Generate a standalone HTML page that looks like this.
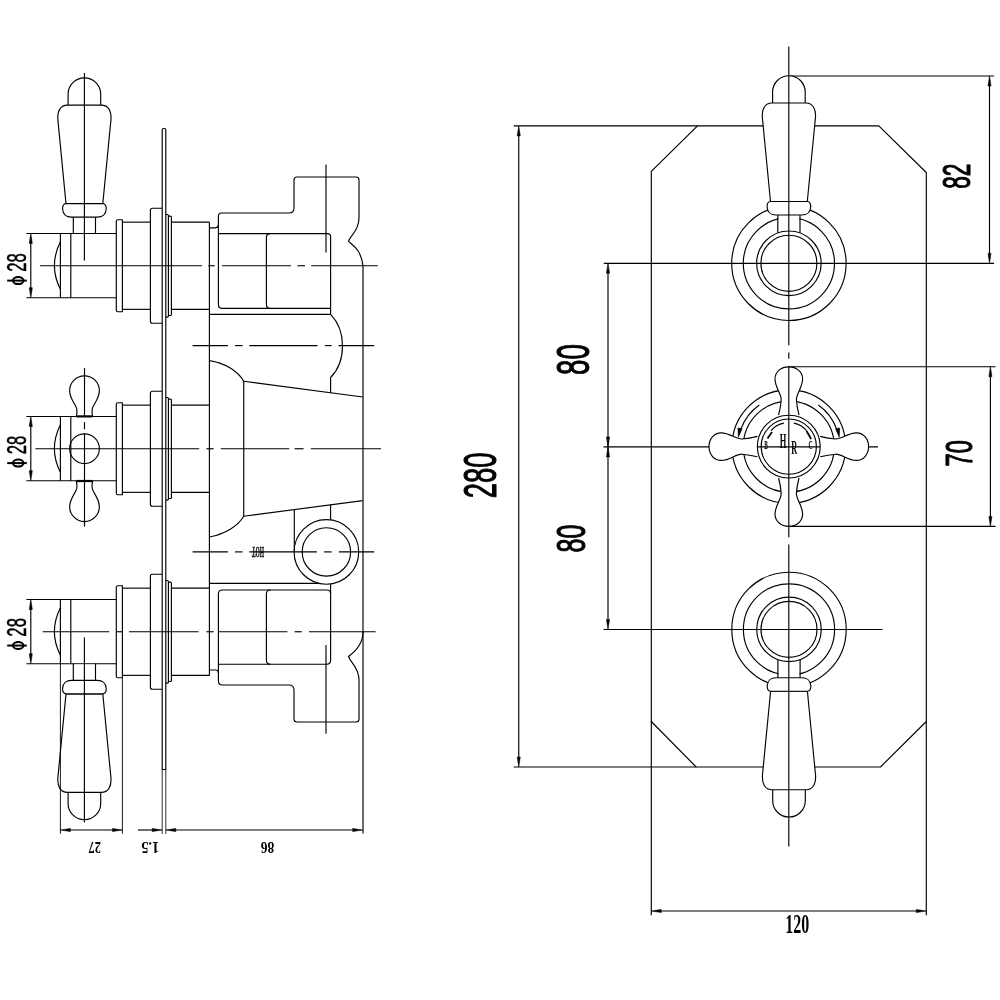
<!DOCTYPE html><html><head><meta charset="utf-8"><style>html,body{margin:0;padding:0;background:#fff;width:1000px;height:1000px;overflow:hidden}svg{display:block;filter:grayscale(1)}</style></head><body><svg width="1000" height="1000" viewBox="0 0 1000 1000" fill="none" stroke="#000" stroke-width="1.15" stroke-linecap="butt" stroke-linejoin="round"><line x1="26.40" y1="233.45" x2="116.30" y2="233.45"/>
<line x1="26.40" y1="297.75" x2="116.30" y2="297.75"/>
<line x1="30.80" y1="242.45" x2="30.80" y2="288.75"/>
<path d="M30.80,233.45 L32.30,243.45 L29.30,243.45 Z" fill="#000" stroke-width="0.6"/>
<path d="M30.80,297.75 L29.30,287.75 L32.30,287.75 Z" fill="#000" stroke-width="0.6"/>
<line x1="60.40" y1="233.45" x2="60.40" y2="297.75"/>
<path d="M60.4,241.75 Q48.4,265.75 60.4,289.25"/>
<line x1="70.80" y1="233.45" x2="70.80" y2="297.75"/>
<path d="M116.3,221.25 Q116.3,219.75 117.8,219.75 H122.4 V311.75 H117.8 Q116.3,311.75 116.3,310.25 Z"/>
<line x1="122.40" y1="222.15" x2="150.40" y2="222.15"/>
<line x1="122.40" y1="309.35" x2="150.40" y2="309.35"/>
<path d="M162,208.25 H152.4 Q150.4,208.25 150.4,210.25 V321.25 Q150.4,323.25 152.4,323.25 H162"/>
<path d="M166,214.45 H167.4 Q168.4,214.45 168.4,215.45 V316.05 Q168.4,317.05 167.4,317.05 H166"/>
<path d="M168.4,216.05 H170.4 Q171.4,216.05 171.4,217.05 V314.45 Q171.4,315.45 170.4,315.45 H168.4"/>
<line x1="171.40" y1="222.15" x2="209.40" y2="222.15"/>
<line x1="171.40" y1="309.35" x2="209.40" y2="309.35"/>
<line x1="26.40" y1="416.45" x2="116.30" y2="416.45"/>
<line x1="26.40" y1="480.75" x2="116.30" y2="480.75"/>
<line x1="30.80" y1="425.45" x2="30.80" y2="471.75"/>
<path d="M30.80,416.45 L32.30,426.45 L29.30,426.45 Z" fill="#000" stroke-width="0.6"/>
<path d="M30.80,480.75 L29.30,470.75 L32.30,470.75 Z" fill="#000" stroke-width="0.6"/>
<line x1="60.40" y1="416.45" x2="60.40" y2="480.75"/>
<path d="M60.4,424.75 Q48.4,448.75 60.4,472.25"/>
<line x1="70.80" y1="416.45" x2="70.80" y2="480.75"/>
<path d="M116.3,404.25 Q116.3,402.75 117.8,402.75 H122.4 V494.75 H117.8 Q116.3,494.75 116.3,493.25 Z"/>
<line x1="122.40" y1="405.15" x2="150.40" y2="405.15"/>
<line x1="122.40" y1="492.35" x2="150.40" y2="492.35"/>
<path d="M162,391.25 H152.4 Q150.4,391.25 150.4,393.25 V504.25 Q150.4,506.25 152.4,506.25 H162"/>
<path d="M166,397.45 H167.4 Q168.4,397.45 168.4,398.45 V499.05 Q168.4,500.05 167.4,500.05 H166"/>
<path d="M168.4,399.05 H170.4 Q171.4,399.05 171.4,400.05 V497.45 Q171.4,498.45 170.4,498.45 H168.4"/>
<line x1="171.40" y1="405.15" x2="209.40" y2="405.15"/>
<line x1="171.40" y1="492.35" x2="209.40" y2="492.35"/>
<line x1="26.40" y1="599.45" x2="116.30" y2="599.45"/>
<line x1="26.40" y1="663.75" x2="116.30" y2="663.75"/>
<line x1="30.80" y1="608.45" x2="30.80" y2="654.75"/>
<path d="M30.80,599.45 L32.30,609.45 L29.30,609.45 Z" fill="#000" stroke-width="0.6"/>
<path d="M30.80,663.75 L29.30,653.75 L32.30,653.75 Z" fill="#000" stroke-width="0.6"/>
<line x1="60.40" y1="599.45" x2="60.40" y2="663.75"/>
<path d="M60.4,607.75 Q48.4,631.75 60.4,655.25"/>
<line x1="70.80" y1="599.45" x2="70.80" y2="663.75"/>
<path d="M116.3,587.25 Q116.3,585.75 117.8,585.75 H122.4 V677.75 H117.8 Q116.3,677.75 116.3,676.25 Z"/>
<line x1="122.40" y1="588.15" x2="150.40" y2="588.15"/>
<line x1="122.40" y1="675.35" x2="150.40" y2="675.35"/>
<path d="M162,574.25 H152.4 Q150.4,574.25 150.4,576.25 V687.25 Q150.4,689.25 152.4,689.25 H162"/>
<path d="M166,580.45 H167.4 Q168.4,580.45 168.4,581.45 V682.05 Q168.4,683.05 167.4,683.05 H166"/>
<path d="M168.4,582.05 H170.4 Q171.4,582.05 171.4,583.05 V680.45 Q171.4,681.45 170.4,681.45 H168.4"/>
<line x1="171.40" y1="588.15" x2="209.40" y2="588.15"/>
<line x1="171.40" y1="675.35" x2="209.40" y2="675.35"/>
<path d="M162.2,769.5 V130 Q162.2,128.5 163.7,128.5 H164.3 Q165.8,128.5 165.8,130 V769.5 Z"/>
<text transform="translate(26.4,262.40) rotate(-90)" x="0" y="0" text-anchor="middle" font-family="Liberation Sans" font-size="26.8" textLength="18.6" lengthAdjust="spacingAndGlyphs" fill="#000" stroke="#000" stroke-width="0.5">28</text>
<ellipse cx="18.2" cy="280.60" rx="5.3" ry="3.5" stroke-width="2"/>
<path d="M7.2,280.60 L26.8,280.60" stroke-width="2"/>
<text transform="translate(26.4,444.90) rotate(-90)" x="0" y="0" text-anchor="middle" font-family="Liberation Sans" font-size="26.8" textLength="18.6" lengthAdjust="spacingAndGlyphs" fill="#000" stroke="#000" stroke-width="0.5">28</text>
<ellipse cx="18.2" cy="463.10" rx="5.3" ry="3.5" stroke-width="2"/>
<path d="M7.2,463.10 L26.8,463.10" stroke-width="2"/>
<text transform="translate(26.4,627.35) rotate(-90)" x="0" y="0" text-anchor="middle" font-family="Liberation Sans" font-size="26.8" textLength="18.6" lengthAdjust="spacingAndGlyphs" fill="#000" stroke="#000" stroke-width="0.5">28</text>
<ellipse cx="18.2" cy="645.55" rx="5.3" ry="3.5" stroke-width="2"/>
<path d="M7.2,645.55 L26.8,645.55" stroke-width="2"/>
<line x1="40.00" y1="265.75" x2="202.00" y2="265.75"/>
<line x1="208.30" y1="265.75" x2="214.60" y2="265.75"/>
<line x1="222.00" y1="265.75" x2="290.90" y2="265.75"/>
<line x1="297.60" y1="265.75" x2="305.00" y2="265.75"/>
<line x1="311.20" y1="265.75" x2="377.80" y2="265.75"/>
<line x1="35.40" y1="448.75" x2="199.20" y2="448.75"/>
<line x1="206.40" y1="448.75" x2="213.60" y2="448.75"/>
<line x1="220.80" y1="448.75" x2="289.20" y2="448.75"/>
<line x1="294.60" y1="448.75" x2="303.60" y2="448.75"/>
<line x1="310.80" y1="448.75" x2="381.00" y2="448.75"/>
<line x1="42.60" y1="631.75" x2="109.20" y2="631.75"/>
<line x1="116.40" y1="631.75" x2="122.90" y2="631.75"/>
<line x1="129.00" y1="631.75" x2="198.50" y2="631.75"/>
<line x1="206.40" y1="631.75" x2="213.60" y2="631.75"/>
<line x1="219.00" y1="631.75" x2="287.40" y2="631.75"/>
<line x1="294.60" y1="631.75" x2="301.80" y2="631.75"/>
<line x1="309.00" y1="631.75" x2="375.60" y2="631.75"/>
<line x1="192.60" y1="345.60" x2="227.90" y2="345.60"/>
<line x1="235.00" y1="345.60" x2="242.60" y2="345.60"/>
<line x1="249.30" y1="345.60" x2="317.50" y2="345.60"/>
<line x1="324.90" y1="345.60" x2="331.60" y2="345.60"/>
<line x1="338.50" y1="345.60" x2="374.20" y2="345.60"/>
<line x1="192.60" y1="551.90" x2="227.90" y2="551.90"/>
<line x1="235.00" y1="551.90" x2="242.60" y2="551.90"/>
<line x1="249.30" y1="551.90" x2="316.90" y2="551.90"/>
<line x1="324.00" y1="551.90" x2="331.70" y2="551.90"/>
<line x1="338.90" y1="551.90" x2="374.20" y2="551.90"/>
<line x1="209.40" y1="222.20" x2="209.40" y2="675.50"/>
<path d="M209.4,227.8 H215.4 Q218.4,227.8 218.4,224.8 V216 Q218.4,213 221.4,213 H289 Q294,213 294,208 V180 Q294,177 297,177 H356 Q359,177 359,180 V218 C359,231 350,236 348.5,241.3 C353,245.5 361,249.5 363,266 V833.5"/>
<path d="M218.4,224.8 V304.4 Q218.4,308.4 222.4,308.4 H330.6"/>
<path d="M218.4,233.6 H327.6 Q330.6,233.6 330.6,236.6 V314.4"/>
<path d="M270.4,233.6 Q266.4,233.6 266.4,237.6 V304.4 Q266.4,308.4 270.4,308.4"/>
<line x1="209.40" y1="314.40" x2="330.60" y2="314.40"/>
<path d="M330.6,314.4 C338,322 342.5,333 342.5,346 C342.5,359 338,370 330.6,377.5 V392.75"/>
<path d="M209.4,360.6 C225,363 238,371 243.75,381.25 V516.25 C238,526 225,534 209.4,537"/>
<line x1="243.75" y1="381.25" x2="362.70" y2="397.00"/>
<line x1="243.75" y1="516.25" x2="362.70" y2="500.60"/>
<line x1="330.60" y1="504.80" x2="330.60" y2="519.60"/>
<line x1="294.30" y1="509.60" x2="294.30" y2="551.90"/>
<circle cx="326.40" cy="551.90" r="32.30"/>
<circle cx="326.40" cy="551.90" r="24.20"/>
<line x1="209.40" y1="583.30" x2="318.80" y2="583.30"/>
<path d="M330.6,583.9 V660.25 Q330.6,664.25 326.6,664.25 H218.4"/>
<path d="M218.4,673 V594 Q218.4,590 222.4,590 H326.6 Q330.6,590 330.6,594"/>
<path d="M270.4,590 Q266.4,590 266.4,594 V660.25 Q266.4,664.25 270.4,664.25"/>
<path d="M209.4,670 H215.4 Q218.4,670 218.4,673 V681 Q218.4,685 222.4,685 H289 Q294,685 294,690 V719 Q294,722 297,722 H356 Q359,722 359,719 V680 C359,667 350,662 348.5,656.5 C356,651 363,643 363,632"/>
<line x1="326.00" y1="164.40" x2="326.00" y2="252.40"/>
<line x1="326.00" y1="645.00" x2="326.00" y2="733.75"/>
<text transform="translate(258,547.2) rotate(180)" text-anchor="middle" font-family="Liberation Serif" font-weight="bold" font-size="13.6" textLength="12" lengthAdjust="spacingAndGlyphs" fill="#000" stroke="#000" stroke-width="0.3">HOT</text>
<g transform="translate(84.4,217.1)"><rect x="-10.5" y="0" width="21" height="15.8" fill="#fff" stroke="none"/><path d="M-11.1,0 V16.8 M11.1,0 V16.8"/><path d="M-16.3,-112 V-123 A16.3,16.3 0 0 1 16.3,-123 V-112" fill="#fff"/><path d="M-18.4,-13.5 L-26.6,-98 C-27,-106 -24,-112 -17,-112 H17 C24,-112 27,-106 26.6,-98 L18.4,-13.5 Z" fill="#fff"/><path d="M-18.4,-13.5 H18.4 C21.3,-13.5 21.9,-10.5 21.8,-8 C21.6,-3 18,0 13,0 H-13 C-18,0 -21.6,-3 -21.8,-8 C-21.9,-10.5 -21.3,-13.5 -18.4,-13.5 Z" fill="#fff"/></g>
<g transform="translate(84.4,680.4) scale(1,-1)"><rect x="-10.5" y="0" width="21" height="15.8" fill="#fff" stroke="none"/><path d="M-11.1,0 V16.8 M11.1,0 V16.8"/><path d="M-16.3,-112 V-123 A16.3,16.3 0 0 1 16.3,-123 V-112" fill="#fff"/><path d="M-18.4,-13.5 L-26.6,-98 C-27,-106 -24,-112 -17,-112 H17 C24,-112 27,-106 26.6,-98 L18.4,-13.5 Z" fill="#fff"/><path d="M-18.4,-13.5 H18.4 C21.3,-13.5 21.9,-10.5 21.8,-8 C21.6,-3 18,0 13,0 H-13 C-18,0 -21.6,-3 -21.8,-8 C-21.9,-10.5 -21.3,-13.5 -18.4,-13.5 Z" fill="#fff"/></g>
<line x1="84.40" y1="73.00" x2="84.40" y2="260.50"/>
<line x1="84.40" y1="637.50" x2="84.40" y2="822.50"/>
<g transform="translate(84.5,448.7)"><path d="M-8.2,-32.3 C-7.4,-35 -7.4,-37.5 -7.8,-40 C-8.6,-44 -14.85,-50 -14.85,-58 A14.85,14.85 0 0 1 14.85,-58 C14.85,-50 8.6,-44 7.8,-40 C7.4,-37.5 7.4,-35 8.2,-32.3" fill="#fff"/><path d="M-8.2,-32.3 C-7.4,-35 -7.4,-37.5 -7.8,-40 C-8.6,-44 -14.85,-50 -14.85,-58 A14.85,14.85 0 0 1 14.85,-58 C14.85,-50 8.6,-44 7.8,-40 C7.4,-37.5 7.4,-35 8.2,-32.3" transform="scale(1,-1)" fill="#fff"/></g>
<circle cx="84.50" cy="448.70" r="14.85"/>
<line x1="76.60" y1="416.40" x2="92.40" y2="416.40" stroke-width="2.2"/>
<line x1="76.60" y1="481.00" x2="92.40" y2="481.00" stroke-width="2.2"/>
<line x1="84.50" y1="368.10" x2="84.50" y2="415.80"/>
<line x1="84.50" y1="422.00" x2="84.50" y2="429.30"/>
<line x1="84.50" y1="433.80" x2="84.50" y2="526.50"/>
<line x1="60.40" y1="663.75" x2="60.40" y2="833.75" stroke-width="0.9"/>
<line x1="122.40" y1="678.00" x2="122.40" y2="833.75" stroke-width="0.9"/>
<line x1="162.20" y1="769.50" x2="162.20" y2="834.00" stroke-width="0.8"/>
<line x1="165.80" y1="769.50" x2="165.80" y2="834.00" stroke-width="0.8"/>
<line x1="70.40" y1="830.00" x2="112.40" y2="830.00"/>
<path d="M60.40,830.00 L70.40,828.50 L70.40,831.50 Z" fill="#000" stroke-width="0.6"/>
<path d="M122.40,830.00 L112.40,831.50 L112.40,828.50 Z" fill="#000" stroke-width="0.6"/>
<line x1="138.00" y1="830.00" x2="152.20" y2="830.00"/>
<path d="M162.20,830.00 L152.20,831.50 L152.20,828.50 Z" fill="#000" stroke-width="0.6"/>
<line x1="175.80" y1="830.00" x2="352.70" y2="830.00"/>
<path d="M165.80,830.00 L175.80,828.50 L175.80,831.50 Z" fill="#000" stroke-width="0.6"/>
<path d="M362.70,830.00 L352.70,831.50 L352.70,828.50 Z" fill="#000" stroke-width="0.6"/>
<text transform="translate(94.8,847.8) rotate(180)" text-anchor="middle" dominant-baseline="central" font-family="Liberation Serif" font-weight="bold" font-size="16" textLength="12.5" lengthAdjust="spacingAndGlyphs" fill="#000" stroke="none">27</text>
<text transform="translate(150.2,847.8) rotate(180)" text-anchor="middle" dominant-baseline="central" font-family="Liberation Serif" font-weight="bold" font-size="16" textLength="18" lengthAdjust="spacingAndGlyphs" fill="#000" stroke="none">1.5</text>
<text transform="translate(267.4,847.8) rotate(180)" text-anchor="middle" dominant-baseline="central" font-family="Liberation Serif" font-weight="bold" font-size="16" textLength="13.5" lengthAdjust="spacingAndGlyphs" fill="#000" stroke="none">86</text>
<path d="M697.5,125.9 L651.3,171.3 V721.5 L696.2,767 H880.5 L926.3,721.5 V172.5 L878.8,125.9 Z"/>
<line x1="513.75" y1="125.90" x2="697.50" y2="125.90"/>
<line x1="513.75" y1="767.00" x2="696.20" y2="767.00"/>
<line x1="518.75" y1="135.90" x2="518.75" y2="757.00"/>
<path d="M518.75,125.90 L520.25,135.90 L517.25,135.90 Z" fill="#000" stroke-width="0.6"/>
<path d="M518.75,767.00 L517.25,757.00 L520.25,757.00 Z" fill="#000" stroke-width="0.6"/>
<line x1="651.30" y1="721.50" x2="651.30" y2="915.20"/>
<line x1="926.30" y1="721.50" x2="926.30" y2="915.20"/>
<line x1="661.30" y1="911.00" x2="916.30" y2="911.00"/>
<path d="M651.30,911.00 L661.30,909.50 L661.30,912.50 Z" fill="#000" stroke-width="0.6"/>
<path d="M926.30,911.00 L916.30,912.50 L916.30,909.50 Z" fill="#000" stroke-width="0.6"/>
<line x1="603.75" y1="263.30" x2="994.00" y2="263.30"/>
<line x1="603.50" y1="446.90" x2="878.00" y2="446.90"/>
<line x1="603.50" y1="629.50" x2="882.50" y2="629.50"/>
<line x1="608.00" y1="273.30" x2="608.00" y2="619.50"/>
<path d="M608.00,263.30 L609.50,273.30 L606.50,273.30 Z" fill="#000" stroke-width="0.6"/>
<path d="M608.00,446.90 L606.50,436.90 L609.50,436.90 Z" fill="#000" stroke-width="0.6"/>
<path d="M608.00,446.90 L609.50,456.90 L606.50,456.90 Z" fill="#000" stroke-width="0.6"/>
<path d="M608.00,629.50 L606.50,619.50 L609.50,619.50 Z" fill="#000" stroke-width="0.6"/>
<line x1="788.90" y1="76.00" x2="994.00" y2="76.00"/>
<line x1="989.50" y1="86.00" x2="989.50" y2="253.30"/>
<path d="M989.50,76.00 L991.00,86.00 L988.00,86.00 Z" fill="#000" stroke-width="0.6"/>
<path d="M989.50,263.30 L988.00,253.30 L991.00,253.30 Z" fill="#000" stroke-width="0.6"/>
<line x1="788.90" y1="366.70" x2="995.50" y2="366.70"/>
<line x1="788.90" y1="526.40" x2="995.50" y2="526.40"/>
<line x1="990.40" y1="376.70" x2="990.40" y2="516.40"/>
<path d="M990.40,366.70 L991.90,376.70 L988.90,376.70 Z" fill="#000" stroke-width="0.6"/>
<path d="M990.40,526.40 L988.90,516.40 L991.90,516.40 Z" fill="#000" stroke-width="0.6"/>
<circle cx="788.90" cy="263.30" r="57.20"/>
<circle cx="788.90" cy="263.30" r="45.60"/>
<circle cx="788.90" cy="263.30" r="32.25"/>
<circle cx="788.90" cy="263.30" r="28.00"/>
<circle cx="789.00" cy="629.40" r="57.20"/>
<circle cx="789.00" cy="629.40" r="45.60"/>
<circle cx="789.00" cy="629.40" r="32.25"/>
<circle cx="789.00" cy="629.40" r="28.00"/>
<g transform="translate(788.9,215)"><rect x="-10.5" y="0" width="21" height="15.2" fill="#fff" stroke="none"/><path d="M-11.1,0 V18 M11.1,0 V18"/><path d="M-16.3,-112 V-123 A16.3,16.3 0 0 1 16.3,-123 V-112" fill="#fff"/><path d="M-18.4,-13.5 L-26.6,-98 C-27,-106 -24,-112 -17,-112 H17 C24,-112 27,-106 26.6,-98 L18.4,-13.5 Z" fill="#fff"/><path d="M-18.4,-13.5 H18.4 C21.3,-13.5 21.9,-10.5 21.8,-8 C21.6,-3 18,0 13,0 H-13 C-18,0 -21.6,-3 -21.8,-8 C-21.9,-10.5 -21.3,-13.5 -18.4,-13.5 Z" fill="#fff"/></g>
<g transform="translate(789.0,677.7) scale(1,-1)"><rect x="-10.5" y="0" width="21" height="15.2" fill="#fff" stroke="none"/><path d="M-11.1,0 V18 M11.1,0 V18"/><path d="M-16.3,-112 V-123 A16.3,16.3 0 0 1 16.3,-123 V-112" fill="#fff"/><path d="M-18.4,-13.5 L-26.6,-98 C-27,-106 -24,-112 -17,-112 H17 C24,-112 27,-106 26.6,-98 L18.4,-13.5 Z" fill="#fff"/><path d="M-18.4,-13.5 H18.4 C21.3,-13.5 21.9,-10.5 21.8,-8 C21.6,-3 18,0 13,0 H-13 C-18,0 -21.6,-3 -21.8,-8 C-21.9,-10.5 -21.3,-13.5 -18.4,-13.5 Z" fill="#fff"/></g>
<circle cx="788.80" cy="446.60" r="56.80"/>
<circle cx="788.80" cy="446.60" r="45.50"/>
<g transform="translate(788.8,446.6)"><path d="M10.2,-31.4 C9,-36 8,-41 7.6,-46.8 C7.4,-53 13.8,-59 13.8,-67.5 C13.8,-75 7.5,-79.8 0,-79.8 C-7.5,-79.8 -13.8,-75 -13.8,-67.5 C-13.8,-59 -7.4,-53 -7.6,-46.8 C-8,-41 -9,-36 -10.2,-31.4" transform="rotate(0)" fill="#fff"/><path d="M10.2,-31.4 C9,-36 8,-41 7.6,-46.8 C7.4,-53 13.8,-59 13.8,-67.5 C13.8,-75 7.5,-79.8 0,-79.8 C-7.5,-79.8 -13.8,-75 -13.8,-67.5 C-13.8,-59 -7.4,-53 -7.6,-46.8 C-8,-41 -9,-36 -10.2,-31.4" transform="rotate(90)" fill="#fff"/><path d="M10.2,-31.4 C9,-36 8,-41 7.6,-46.8 C7.4,-53 13.8,-59 13.8,-67.5 C13.8,-75 7.5,-79.8 0,-79.8 C-7.5,-79.8 -13.8,-75 -13.8,-67.5 C-13.8,-59 -7.4,-53 -7.6,-46.8 C-8,-41 -9,-36 -10.2,-31.4" transform="rotate(180)" fill="#fff"/><path d="M10.2,-31.4 C9,-36 8,-41 7.6,-46.8 C7.4,-53 13.8,-59 13.8,-67.5 C13.8,-75 7.5,-79.8 0,-79.8 C-7.5,-79.8 -13.8,-75 -13.8,-67.5 C-13.8,-59 -7.4,-53 -7.6,-46.8 C-8,-41 -9,-36 -10.2,-31.4" transform="rotate(270)" fill="#fff"/></g>
<circle cx="788.80" cy="446.60" r="31.40"/>
<circle cx="788.80" cy="446.60" r="27.60"/>
<path d="M759.26,405.03 A51,51 0 0 0 740.88,429.16"/>
<path d="M738.36,437.25 L737.93,428.02 L742.06,428.78 Z" fill="#000" stroke-width="0.6"/>
<path d="M818.34,405.03 A51,51 0 0 1 836.72,429.16"/>
<path d="M839.24,437.25 L835.54,428.78 L839.67,428.02 Z" fill="#000" stroke-width="0.6"/>
<path d="M783.81,423.12 A24,24 0 0 0 770.96,430.54"/>
<line x1="772.00" y1="432.00" x2="767.50" y2="438.60" stroke-width="1.8"/>
<path d="M793.79,423.12 A24,24 0 0 1 806.64,430.54"/>
<line x1="806.50" y1="431.00" x2="811.20" y2="439.00" stroke-width="1.8"/>
<line x1="788.80" y1="46.50" x2="788.80" y2="345.20"/>
<line x1="788.80" y1="352.40" x2="788.80" y2="358.80"/>
<line x1="788.80" y1="366.00" x2="788.80" y2="537.20"/>
<line x1="788.80" y1="544.40" x2="788.80" y2="846.40"/>
<text x="783.10" y="448.20" text-anchor="middle" font-family="Liberation Serif" font-weight="bold" font-size="20.00" textLength="6.60" lengthAdjust="spacingAndGlyphs" fill="#000" stroke="none">H</text>
<text x="794.20" y="454.20" text-anchor="middle" font-family="Liberation Serif" font-weight="bold" font-size="19.09" textLength="6.00" lengthAdjust="spacingAndGlyphs" fill="#000" stroke="none">R</text>
<text x="766.00" y="448.60" text-anchor="middle" font-family="Liberation Serif" font-weight="bold" font-size="12.73" textLength="3.60" lengthAdjust="spacingAndGlyphs" fill="#000" stroke="none">B</text>
<text x="810.70" y="448.80" text-anchor="middle" font-family="Liberation Serif" font-weight="bold" font-size="12.73" textLength="4.20" lengthAdjust="spacingAndGlyphs" fill="#000" stroke="none">C</text>
<text transform="translate(479.60,475.44) rotate(-90)" x="0" y="16.26" text-anchor="middle" font-family="Liberation Sans" font-weight="normal" font-size="45.42" textLength="45.76" lengthAdjust="spacingAndGlyphs" fill="#000" stroke="#000" stroke-width="1.1">280</text>
<text transform="translate(572.58,359.50) rotate(-90)" x="0" y="16.82" text-anchor="middle" font-family="Liberation Sans" font-weight="normal" font-size="47.00" textLength="30.80" lengthAdjust="spacingAndGlyphs" fill="#000" stroke="#000" stroke-width="1.1">80</text>
<text transform="translate(570.20,538.50) rotate(-90)" x="0" y="14.70" text-anchor="middle" font-family="Liberation Sans" font-weight="normal" font-size="41.06" textLength="27.80" lengthAdjust="spacingAndGlyphs" fill="#000" stroke="#000" stroke-width="1.1">80</text>
<text transform="translate(956.72,176.21) rotate(-90)" x="0" y="13.76" text-anchor="middle" font-family="Liberation Sans" font-weight="normal" font-size="38.44" textLength="25.30" lengthAdjust="spacingAndGlyphs" fill="#000" stroke="#000" stroke-width="1.1">82</text>
<text transform="translate(958.35,453.25) rotate(-90)" x="0" y="13.55" text-anchor="middle" font-family="Liberation Sans" font-weight="normal" font-size="37.85" textLength="26.30" lengthAdjust="spacingAndGlyphs" fill="#000" stroke="#000" stroke-width="1.1">70</text>
<text x="797.30" y="932.90" text-anchor="middle" font-family="Liberation Serif" font-weight="bold" font-size="27.27" textLength="24.00" lengthAdjust="spacingAndGlyphs" fill="#000" stroke="none">120</text></svg></body></html>
